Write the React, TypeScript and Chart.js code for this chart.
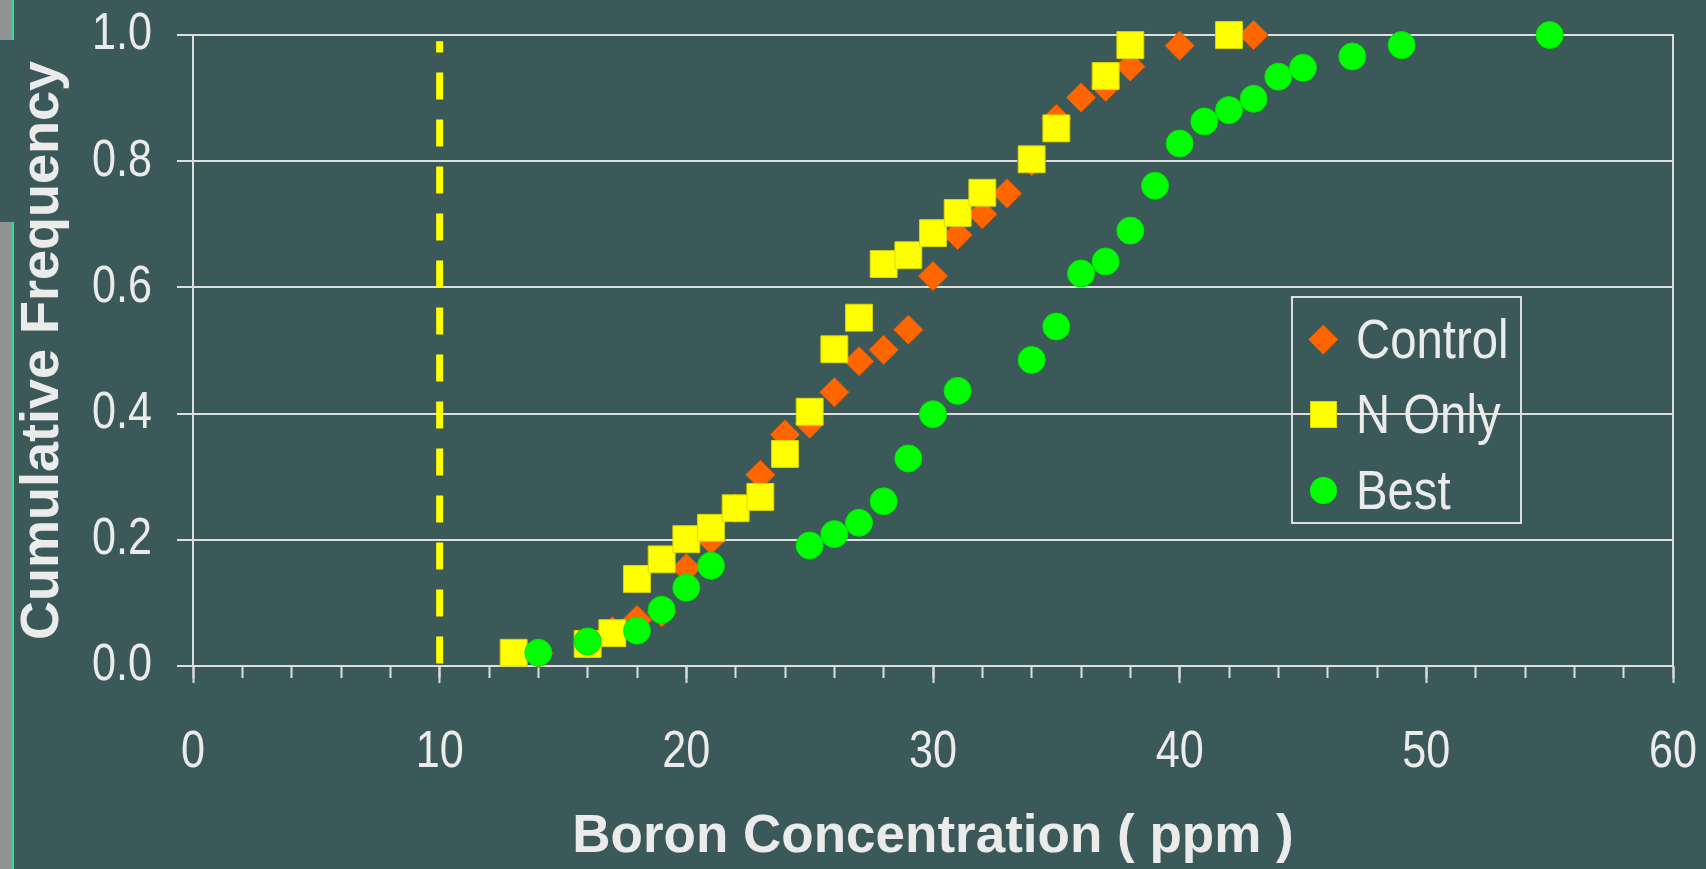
import React, { useEffect, useRef } from "react";
import { Chart, registerables } from "chart.js";

Chart.register(...registerables);

// ---------- data ----------
const controlX = [14, 16, 17, 18, 19, 20, 21, 22, 23, 24, 25, 26, 27, 28, 29, 30, 31, 32, 33, 34, 35, 36, 37, 38, 40, 43];
const controlY = [0.02, 0.035, 0.055, 0.073, 0.085, 0.155, 0.2, 0.25, 0.303, 0.367, 0.384, 0.434, 0.483, 0.501, 0.533, 0.618, 0.683, 0.716, 0.749, 0.8, 0.867, 0.901, 0.918, 0.95, 0.983, 1.0];

const nOnlyX = [13, 16, 17, 18, 19, 20, 21, 22, 23, 24, 25, 26, 27, 28, 29, 30, 31, 32, 34, 35, 37, 38, 42];
const nOnlyY = [0.021, 0.035, 0.052, 0.138, 0.169, 0.201, 0.219, 0.25, 0.268, 0.336, 0.403, 0.502, 0.552, 0.637, 0.651, 0.686, 0.718, 0.75, 0.803, 0.852, 0.935, 0.984, 1.0];

const bestX = [14, 16, 18, 19, 20, 21, 25, 26, 27, 28, 29, 30, 31, 34, 35, 36, 37, 38, 39, 40, 41, 42, 43, 44, 45, 47, 49, 55];
const bestY = [0.021, 0.039, 0.056, 0.089, 0.124, 0.159, 0.191, 0.209, 0.227, 0.261, 0.329, 0.399, 0.436, 0.485, 0.538, 0.622, 0.641, 0.69, 0.761, 0.828, 0.863, 0.881, 0.899, 0.934, 0.948, 0.966, 0.984, 1.0];

const thresholdX = [10, 10];
const thresholdY = [0.004, 0.99];

const xTickValues = [0, 10, 20, 30, 40, 50, 60];
const xMinorTickValues = [0, 2, 4, 6, 8, 10, 12, 14, 16, 18, 20, 22, 24, 26, 28, 30, 32, 34, 36, 38, 40, 42, 44, 46, 48, 50, 52, 54, 56, 58, 60];
const yTickValues = [0, 0.2, 0.4, 0.6, 0.8, 1.0];

const seriesNames = ["Control", "N Only", "Best"];
const xTitle = "Boron Concentration ( ppm )";
const yTitle = "Cumulative Frequency";

// ---------- styles ----------
const BG = "#3b5959";
const TEXT = "#ebebeb";
const LINE = "#dedede";
const ORANGE = "#ff6600";
const YELLOW = "#ffff00";
const GREEN = "#00ff00";
const SANS = "'Liberation Sans', Arial, sans-serif";
const CONDENSE = 0.83; // narrow look of the original tick font

const zip = (xs: number[], ys: number[]) => xs.map((x, i) => ({ x, y: ys[i] }));

// squeeze tick labels horizontally (canvas fillText maxWidth), like a narrow font
const condenseTicks = {
  id: "condenseTicks",
  beforeDraw(chart: any) {
    const ctx = chart.ctx;
    ["x", "y"].forEach((id) => {
      const scale = chart.scales[id];
      if (!scale || !scale.getLabelItems) return;
      const items = scale.getLabelItems(chart.chartArea);
      items.forEach((item: any) => {
        ctx.save();
        ctx.font = item.font.string;
        const w = ctx.measureText(String(item.label)).width;
        ctx.restore();
        item.options.maxWidth = w * CONDENSE;
      });
    });
  },
};

export default function App() {
  const ref = useRef<HTMLCanvasElement | null>(null);

  useEffect(() => {
    const canvas = ref.current;
    if (!canvas) return;
    const chart = new Chart(canvas, {
      type: "scatter",
      data: {
        datasets: [
          {
            label: seriesNames[0],
            data: zip(controlX, controlY),
            pointStyle: "rectRot",
            pointRadius: 14.5,
            backgroundColor: ORANGE,
            borderColor: "#e85d00",
            borderWidth: 1,
            order: 3,
            clip: false,
          } as any,
          {
            label: seriesNames[1],
            data: zip(nOnlyX, nOnlyY),
            pointStyle: "rect",
            pointRadius: 19,
            backgroundColor: YELLOW,
            borderColor: "#d8d800",
            borderWidth: 1,
            order: 2,
            clip: false,
          } as any,
          {
            label: seriesNames[2],
            data: zip(bestX, bestY),
            pointStyle: "circle",
            pointRadius: 13.5,
            backgroundColor: GREEN,
            borderColor: "#00e600",
            borderWidth: 1,
            order: 1,
            clip: false,
          } as any,
          {
            type: "line",
            label: "threshold",
            data: zip(thresholdX, thresholdY),
            borderColor: YELLOW,
            borderWidth: 7,
            borderDash: [27, 20],
            borderCapStyle: "butt",
            pointRadius: 0,
            showLine: true,
            fill: false,
            order: 4,
            clip: false,
          } as any,
        ],
      },
      plugins: [condenseTicks],
      options: {
        responsive: false,
        maintainAspectRatio: false,
        animation: false,
        devicePixelRatio: 1,
        layout: { padding: { left: 0, top: 35, right: 33, bottom: 0 } },
        plugins: {
          legend: { display: false },
          tooltip: { enabled: false },
        },
        scales: {
          xMinor: {
            type: "linear",
            position: "bottom",
            weight: 0,
            min: 0,
            max: 60,
            afterFit: (s: any) => {
              s.height = 0;
              s.paddingLeft = 0;
              s.paddingRight = 0;
            },
            afterBuildTicks: (s: any) => {
              s.ticks = xMinorTickValues.map((v) => ({ value: v }));
            },
            ticks: { display: false, autoSkip: false },
            grid: {
              display: true,
              drawOnChartArea: false,
              drawTicks: true,
              tickLength: 12,
              tickColor: LINE,
              tickWidth: 2,
            },
            border: { display: false },
          },
          x: {
            type: "linear",
            position: "bottom",
            weight: 1,
            min: 0,
            max: 60,
            afterFit: (s: any) => {
              s.height = 203;
              s.paddingLeft = 0;
              s.paddingRight = 0;
            },
            afterBuildTicks: (s: any) => {
              s.ticks = xTickValues.map((v) => ({ value: v }));
            },
            ticks: {
              autoSkip: false,
              maxRotation: 0,
              color: TEXT,
              padding: 38,
              font: { family: SANS, size: 52 },
            },
            grid: {
              display: true,
              drawOnChartArea: false,
              drawTicks: true,
              tickLength: 17,
              tickColor: LINE,
              tickWidth: 2,
            },
            border: { display: true, color: LINE, width: 2 },
            title: {
              display: true,
              text: xTitle,
              color: TEXT,
              font: { family: SANS, size: 53, weight: "bold", lineHeight: 1 },
              padding: { top: 0, bottom: 5 },
            },
          },
          y: {
            type: "linear",
            position: "left",
            min: 0,
            max: 1,
            afterFit: (s: any) => {
              s.width = 193;
              s.paddingTop = 0;
              s.paddingBottom = 0;
            },
            afterBuildTicks: (s: any) => {
              s.ticks = yTickValues.map((v) => ({ value: v }));
            },
            ticks: {
              color: TEXT,
              padding: 25,
              font: { family: SANS, size: 52 },
              callback: (v: any) => Number(v).toFixed(1),
            },
            grid: {
              color: LINE,
              lineWidth: 2,
              drawTicks: true,
              tickLength: 16,
              tickColor: LINE,
              tickWidth: 2,
            },
            border: { display: true, color: LINE, width: 2 },
            title: {
              display: true,
              text: yTitle,
              color: TEXT,
              font: { family: SANS, size: 54, weight: "bold", lineHeight: 1 },
              padding: { top: 16, bottom: 0 },
            },
          },
          yRight: {
            type: "linear",
            position: "right",
            min: 0,
            max: 1,
            afterFit: (s: any) => {
              s.width = 0;
              s.paddingTop = 0;
              s.paddingBottom = 0;
            },
            ticks: { display: false },
            grid: { display: true, drawOnChartArea: false, drawTicks: false },
            border: { display: true, color: LINE, width: 2 },
          },
        },
      } as any,
    });
    return () => chart.destroy();
  }, []);

  const legendRows = [
    { name: seriesNames[0], shape: "diamond", color: ORANGE },
    { name: seriesNames[1], shape: "square", color: YELLOW },
    { name: seriesNames[2], shape: "circle", color: GREEN },
  ];
  const rowCenters = [41, 116, 192];

  return (
    <div
      style={{
        position: "fixed",
        left: 0,
        top: 0,
        width: 1706,
        height: 869,
        background: BG,
        overflow: "hidden",
      }}
    >
      {/* decorative left strip of the slide background */}
      <div style={{ position: "absolute", left: 0, top: 0, width: 12, height: 40, background: "#8f9492", borderRight: "2px solid #3fd6a4" }} />
      <div style={{ position: "absolute", left: 0, top: 222, width: 12, height: 647, background: "#8f9492", borderRight: "2px solid #3fd6a4" }} />
      <canvas ref={ref} width={1706} height={869} style={{ position: "absolute", left: 0, top: 0 }} />
      <div
        style={{
          position: "absolute",
          left: 1291,
          top: 296,
          width: 227,
          height: 224,
          border: `2px solid ${LINE}`,
          fontFamily: SANS,
          color: TEXT,
        }}
      >
        {legendRows.map((r, i) => (
          <div
            key={r.name}
            style={{
              position: "absolute",
              left: 0,
              top: rowCenters[i] - 30,
              height: 60,
              width: 227,
            }}
          >
            {r.shape === "diamond" && (
              <div style={{ position: "absolute", left: 30 - 10.25, top: 30 - 10.25, width: 20.5, height: 20.5, background: r.color, transform: "rotate(45deg)" }} />
            )}
            {r.shape === "square" && (
              <div style={{ position: "absolute", left: 30 - 13.5, top: 30 - 13.5, width: 27, height: 27, background: r.color, boxSizing: "border-box", border: "1px solid #d8d800" }} />
            )}
            {r.shape === "circle" && (
              <div style={{ position: "absolute", left: 30 - 13.5, top: 30 - 13.5, width: 27, height: 27, background: r.color, borderRadius: "50%" }} />
            )}
            <span
              style={{
                position: "absolute",
                left: 63,
                top: 0,
                height: 60,
                lineHeight: "60px",
                fontSize: 55,
                whiteSpace: "nowrap",
                transform: "scaleX(0.86)",
                transformOrigin: "0 50%",
              }}
            >
              {r.name}
            </span>
          </div>
        ))}
      </div>
    </div>
  );
}
